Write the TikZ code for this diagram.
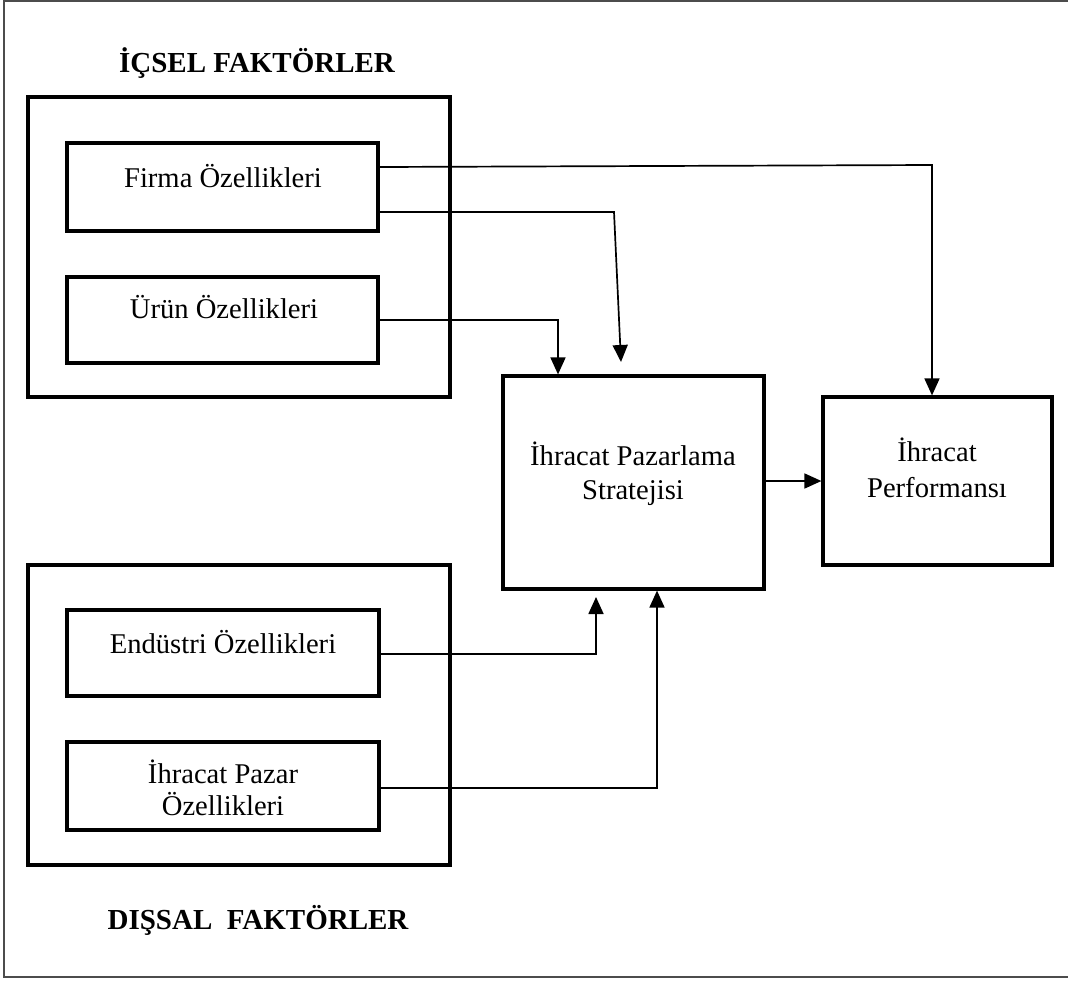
\documentclass[tikz,border=0pt]{standalone}
\usepackage{fontspec}
\setmainfont{Liberation Serif}
\usetikzlibrary{arrows.meta}
\begin{document}
\begin{tikzpicture}[x=1pt,y=-1pt,
  box/.style={draw=black, line width=3.2pt, inner sep=0pt},
  frameline/.style={draw=black!70, line width=2pt},
  conn/.style={draw=black, line width=1.7pt},
  arr/.style={conn, -{Triangle[length=17pt,width=15pt]}},
  txt/.style={anchor=base, inner sep=0pt, font=\fontsize{28.6}{34}\selectfont},
  ttl/.style={anchor=base, inner sep=0pt, font=\fontsize{29}{34}\selectfont\bfseries}]
\useasboundingbox (0,0) rectangle (1068,983);
\fill[white] (0,0) rectangle (1068,983);

% page frame (its right side lies past the edge)
\draw[frameline] (1068,1) -- (4,1) -- (4,977) -- (1068,977);

% group boxes
\node[box, minimum width=422pt, minimum height=300pt] (icgrp) at (239,247) {};
\node[box, minimum width=422pt, minimum height=300pt] (disgrp) at (239,715) {};

% factor boxes
\node[box, minimum width=311pt, minimum height=88pt] (firma) at (222.5,187) {};
\node[box, minimum width=311pt, minimum height=86pt] (urun) at (222.5,320) {};
\node[box, minimum width=312pt, minimum height=86pt] (endustri) at (223,653) {};
\node[box, minimum width=312pt, minimum height=88pt] (pazar) at (223,786) {};

% strategy and performance boxes
\node[box, minimum width=261pt, minimum height=213pt] (strat) at (633.5,482.5) {};
\node[box, minimum width=229pt, minimum height=168pt] (perf) at (937.5,481) {};

% titles
\node[ttl] (ictitle) at (257,72) {İÇSEL FAKTÖRLER};
\node[ttl] (distitle) at (258,929) {DIŞSAL\ \ FAKTÖRLER};

% box texts
\node[txt] (firmatxt) at (223,187) {Firma Özellikleri};
\node[txt] (uruntxt) at (224,318) {Ürün Özellikleri};
\node[txt] (endtxt) at (223,653) {Endüstri Özellikleri};
\node[txt] (paztxtA) at (223,783) {İhracat Pazar};
\node[txt] (paztxtB) at (223,815) {Özellikleri};
\node[txt] (strattxtA) at (633,465) {İhracat Pazarlama};
\node[txt] (strattxtB) at (633,499) {Stratejisi};
\node[txt] (perftxtA) at (937,461) {İhracat};
\node[txt] (perftxtB) at (937,497) {Performansı};

% free arrow ends
\coordinate (firmaend) at (621,362);
\coordinate (endend) at (596,597);

% connectors
\draw[arr] (firma.east |- 0,167) -- (932,165) -- (932,165 |- perf.north);
\draw[arr] (firma.east |- 0,212) -- (614,212) -- (firmaend);
\draw[arr] (urun.east |- 0,320) -- (558,320) -- (558,320 |- strat.north);
\draw[arr] (strat.east |- 0,481) -- (perf.west |- 0,481);
\draw[arr] (endustri.east |- 0,654) -- (596,654) -- (endend);
\draw[arr] (pazar.east |- 0,788) -- (657,788) -- (657,788 |- strat.south);
\end{tikzpicture}
\end{document}
